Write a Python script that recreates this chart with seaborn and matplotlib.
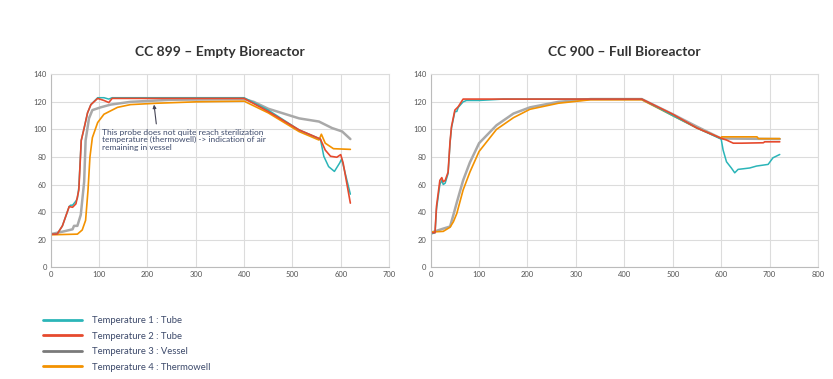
import matplotlib
matplotlib.use("Agg")
import matplotlib.pyplot as plt
from matplotlib.lines import Line2D
import seaborn as sns
import pandas as pd

# CC 899 - empty bioreactor
e_t1_x = [0, 13, 24, 38, 41, 45, 52, 55, 58, 63, 69, 76, 83, 97, 110, 120, 127, 200, 300, 400, 450, 514, 558, 565, 575, 587, 598, 602, 620]
e_t1_y = [24, 24, 30, 44, 45, 45, 48, 50, 58, 92, 101, 112, 118, 123, 123, 122, 123, 123, 123, 123, 114, 99.6, 93, 80.5, 73, 69.5, 75.7, 78.6, 53]
e_t2_x = [0, 13, 24, 38, 45, 52, 58, 63, 69, 76, 83, 97, 110, 120, 127, 200, 300, 400, 450, 514, 558, 568, 579, 592, 600, 605, 620]
e_t2_y = [24, 24, 30, 44, 43.5, 46, 56, 92, 101, 112, 118, 122.5, 121, 119.5, 122.5, 122.5, 122.5, 122.5, 113, 99.6, 93, 85, 80.5, 79.8, 81.7, 75.7, 46.5]
e_t3_x = [0, 27, 45, 48, 55, 62, 69, 72, 79, 86, 103, 124, 165, 250, 400, 420, 450, 514, 555, 582, 603, 620]
e_t3_y = [24, 26, 27.5, 30, 30, 38, 62, 92, 108, 114, 116, 118, 120, 121.5, 122, 120, 115, 108, 105.7, 101, 98.5, 93]
e_t4_x = [0, 55, 65, 72, 77, 81, 86, 97, 110, 138, 165, 220, 300, 400, 450, 514, 555, 560, 568, 585, 620]
e_t4_y = [23.5, 24, 27, 34, 56, 80, 94, 105, 111, 116, 118, 119, 120, 120.5, 112, 98.4, 92.3, 96.5, 90, 86, 85.5]

# CC 900 - full bioreactor
f_t1_x = [0, 9, 12, 19, 23, 26, 30, 36, 40, 43, 50, 54, 57, 67, 74, 100, 150, 300, 436, 500, 550, 600, 604, 611, 621, 628, 635, 645, 659, 673, 697, 707, 721]
f_t1_y = [24, 25, 42, 60, 63, 60, 61, 68, 90, 101, 113, 113, 116, 120, 121, 121, 122, 122, 122, 110, 101, 93, 85, 76.5, 72, 68.5, 71, 71.4, 72, 73.4, 74.6, 79.4, 81.8]
f_t2_x = [0, 9, 12, 19, 23, 26, 30, 36, 40, 43, 50, 57, 67, 436, 500, 550, 601, 611, 625, 642, 687, 690, 721]
f_t2_y = [25, 25, 44, 63, 65, 62, 63, 69, 91, 102, 114, 116.5, 122, 122, 111, 101, 93.4, 92.3, 90, 90, 90.3, 91, 91]
f_t3_x = [0, 26, 40, 47, 54, 67, 81, 100, 136, 171, 205, 264, 330, 436, 500, 550, 600, 721]
f_t3_y = [25, 28, 29.5, 38, 47, 63, 76, 90, 103, 111.5, 116, 120, 122, 122, 111, 102, 93.4, 93]
f_t4_x = [0, 26, 40, 47, 54, 67, 81, 100, 136, 171, 205, 264, 330, 436, 500, 550, 600, 601, 674, 677, 721]
f_t4_y = [25.5, 26, 29, 33, 39, 56, 69, 84, 100, 108.5, 114.6, 119, 121.5, 121.5, 110, 101, 93.4, 94.6, 94.6, 93.3, 93.3]

labels = ["Temperature 1 : Tube", "Temperature 2 : Tube", "Temperature 3 : Vessel", "Temperature 4 : Thermowell"]
colors = ["#2bb5b8", "#e64a2e", "#a9a9a9", "#f39200"]
widths = [1.1, 1.2, 1.8, 1.2]
legend_colors = ["#2bb5b8", "#e64a2e", "#7a7a7a", "#f39200"]

sns.set_theme(style="whitegrid")
plt.rcParams['font.family'] = ['Lato', 'DejaVu Sans']

fig = plt.figure(figsize=(8.33, 3.79), dpi=100)
ax1 = fig.add_axes([0.061, 0.295, 0.406, 0.509])
ax2 = fig.add_axes([0.517, 0.295, 0.465, 0.509])

empty = [(e_t1_x, e_t1_y), (e_t2_x, e_t2_y), (e_t3_x, e_t3_y), (e_t4_x, e_t4_y)]
full = [(f_t1_x, f_t1_y), (f_t2_x, f_t2_y), (f_t3_x, f_t3_y), (f_t4_x, f_t4_y)]
# vessel and thermowell underneath, tubes on top
order = [2, 3, 0, 1]

for ax, series, xmax, title in [(ax1, empty, 700, "CC 899 – Empty Bioreactor"),
                                (ax2, full, 800, "CC 900 – Full Bioreactor")]:
    for i in order:
        df = pd.DataFrame({"time": series[i][0], "temp": series[i][1]})
        sns.lineplot(data=df, x="time", y="temp", ax=ax, color=colors[i], linewidth=widths[i])
    ax.set_xlim(0, xmax)
    ax.set_ylim(0, 140)
    ax.set_xticks(range(0, xmax + 1, 100))
    ax.set_yticks(range(0, 141, 20))
    ax.set_xlabel("")
    ax.set_ylabel("")
    ax.grid(color="#dcdcdc", linewidth=0.8)
    ax.tick_params(labelsize=5.5, colors="#555555", length=0, pad=3)
    for s in ["top", "right"]:
        ax.spines[s].set_color("#dcdcdc")
        ax.spines[s].set_linewidth(0.8)
    for s in ["left", "bottom"]:
        ax.spines[s].set_color("#bbbbbb")
        ax.spines[s].set_linewidth(0.8)
    ax.set_title(title, fontsize=10, fontweight="bold", color="#333333", pad=13)

ax1.annotate("", xy=(213, 120), xytext=(219, 102),
             arrowprops=dict(arrowstyle="-|>", color="#444455", lw=0.8, mutation_scale=5))
ax1.text(106, 100.5, "This probe does not quite reach sterilization\ntemperature (thermowell) -> indication of air\nremaining in vessel",
         fontsize=6, color="#3d4a6b", va="top", ha="left", linespacing=1.1)

handles = [Line2D([0], [0], color=c, linewidth=2) for c in legend_colors]
fig.legend(handles, labels, loc="upper left", bbox_to_anchor=(0.041, 0.188),
           frameon=False, fontsize=6.8, handlelength=4.2, labelspacing=0.68,
           handletextpad=1.0, labelcolor="#3d4a6b")

fig.savefig("out.png", dpi=100)
